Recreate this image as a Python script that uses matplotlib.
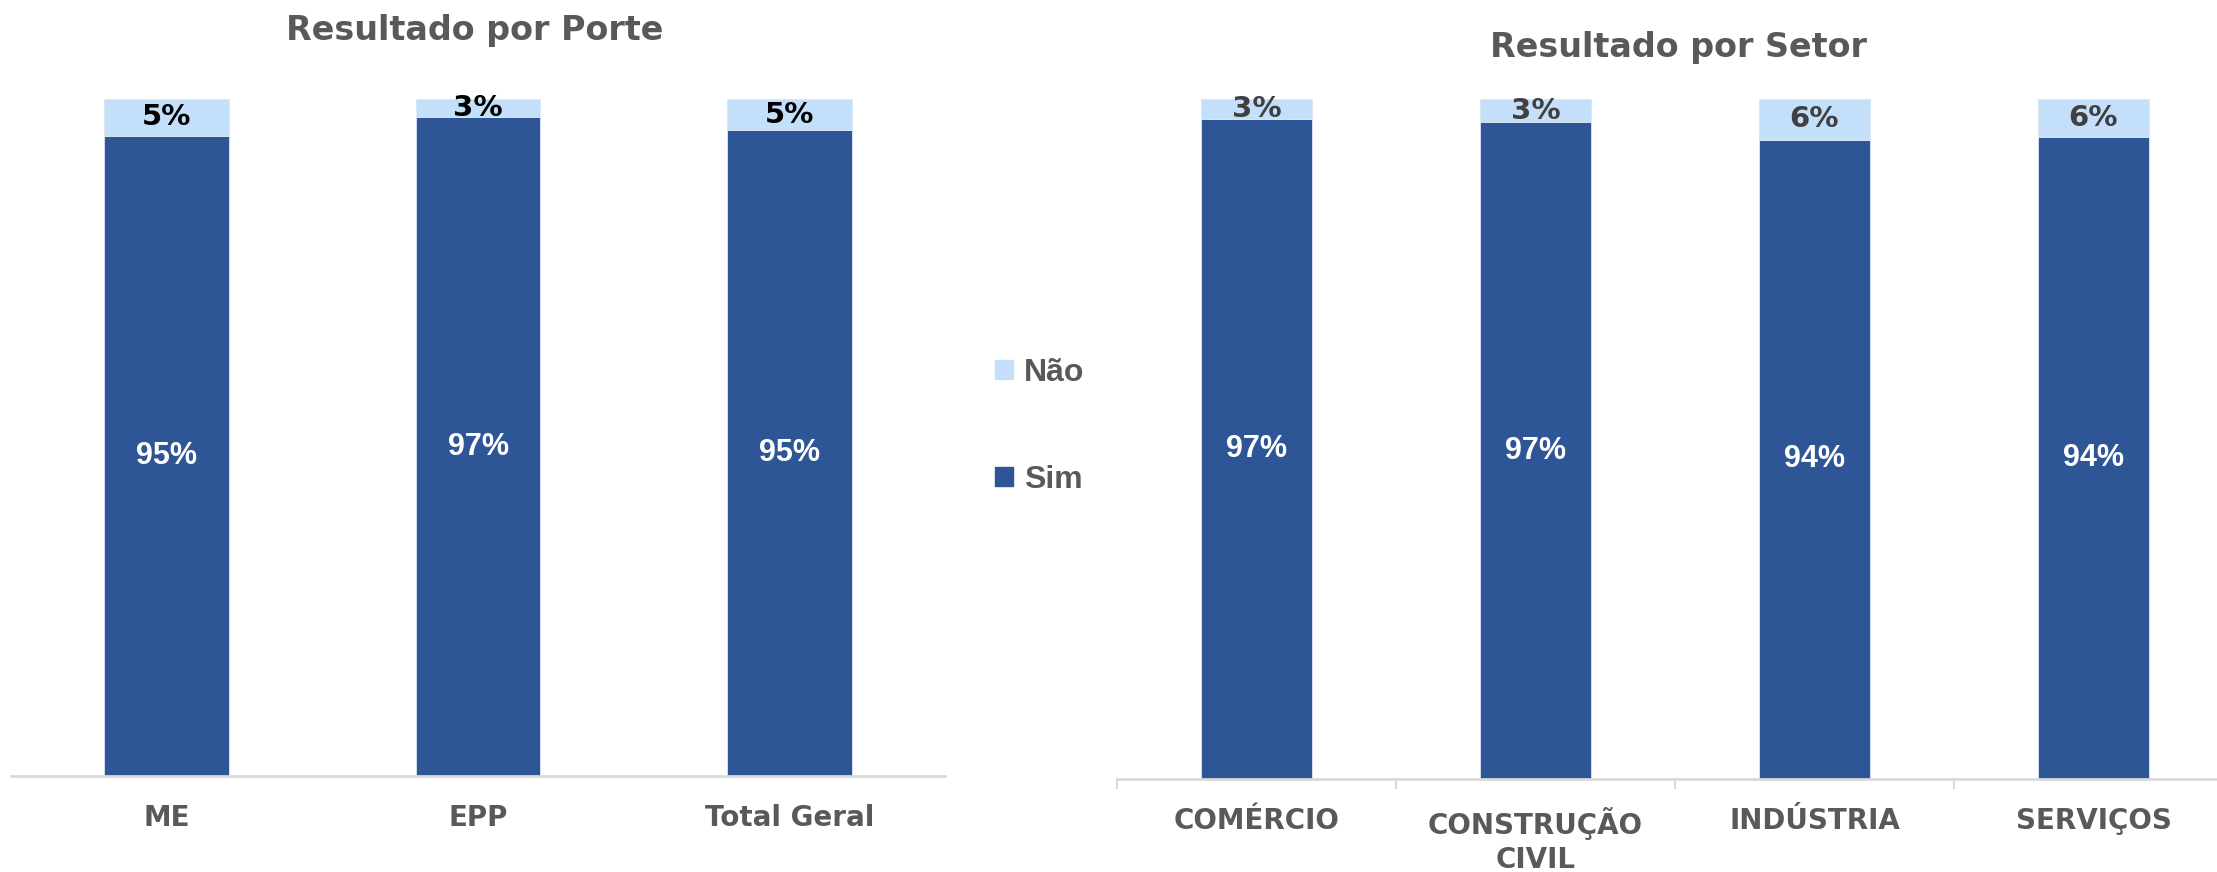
import matplotlib.pyplot as plt
from matplotlib.patches import Patch

# data
porte_cats = ["ME", "EPP", "Total Geral"]
porte_sim = [94.6, 97.3, 95.4]
porte_nao = [5.4, 2.7, 4.6]

setor_cats = ["COMÉRCIO", "CONSTRUÇÃO\nCIVIL", "INDÚSTRIA", "SERVIÇOS"]
setor_sim = [97.1, 96.6, 94.0, 94.4]
setor_nao = [2.9, 3.4, 6.0, 5.6]

SIM_COLOR = "#2E5596"
NAO_COLOR = "#C4DFF9"
GRAY = "#595959"
AXIS_GRAY = "#D9D9D9"

NARROW = ["Liberation Sans Narrow", "DejaVu Sans Condensed", "DejaVu Sans"]
WIDE = ["Liberation Sans", "DejaVu Sans"]


def draw_panel(ax, cats, sim, nao, top_color, ticks_between):
    x = list(range(len(cats)))
    ax.bar(x, sim, width=0.4, color=SIM_COLOR, edgecolor="#DCE6F5", linewidth=0.6)
    ax.bar(x, nao, width=0.4, bottom=sim, color=NAO_COLOR, edgecolor="#DCE6F5", linewidth=0.6)

    for xi, s, n in zip(x, sim, nao):
        ax.text(xi, s / 2, f"{s:.0f}%", ha="center", va="center",
                color="white", fontsize=22, fontweight="bold", family=WIDE)
        ax.text(xi, s + n / 2, f"{n:.0f}%", ha="center", va="center",
                color=top_color, fontsize=21, fontweight="bold", family=NARROW)

    ax.set_xlim(-0.5, len(cats) - 0.5)
    ax.set_ylim(0, 100)
    ax.set_yticks([])
    for side in ["top", "right", "left"]:
        ax.spines[side].set_visible(False)
    ax.spines["bottom"].set_color(AXIS_GRAY)
    ax.spines["bottom"].set_linewidth(2)

    ax.set_xticks(x)
    ax.set_xticklabels(cats, fontsize=20, fontweight="bold", color=GRAY,
                       family=NARROW, linespacing=1.3)
    ax.tick_params(axis="x", which="major", length=0, pad=20)
    if ticks_between:
        ax.set_xticks([i - 0.5 for i in range(len(cats) + 1)], minor=True)
        ax.tick_params(axis="x", which="minor", length=7, width=1.5, color=AXIS_GRAY)


fig = plt.figure(figsize=(22.17, 8.72), dpi=100)

ax1 = fig.add_axes([0.005, 0.110, 0.4213, 0.7765])
draw_panel(ax1, porte_cats, porte_sim, porte_nao, "black", False)
fig.text(0.214, 0.965, "Resultado por Porte", ha="center", va="center",
         fontsize=24, fontweight="bold", color=GRAY, family=NARROW)

ax2 = fig.add_axes([0.5038, 0.1067, 0.5034, 0.7798])
draw_panel(ax2, setor_cats, setor_sim, setor_nao, "#404040", True)
fig.text(0.757, 0.945, "Resultado por Setor", ha="center", va="center",
         fontsize=24, fontweight="bold", color=GRAY, family=NARROW)

handles = [Patch(color=NAO_COLOR, label="Não"), Patch(color=SIM_COLOR, label="Sim")]
leg = fig.legend(handles=handles, loc="center left", bbox_to_anchor=(0.449, 0.511),
                 frameon=False, handlelength=0.55, handleheight=0.55,
                 handletextpad=0.35, labelspacing=2.4, borderpad=0, borderaxespad=0,
                 prop={"family": WIDE, "weight": "bold", "size": 23})
for t in leg.get_texts():
    t.set_color(GRAY)

fig.savefig("out.png", dpi=100)
